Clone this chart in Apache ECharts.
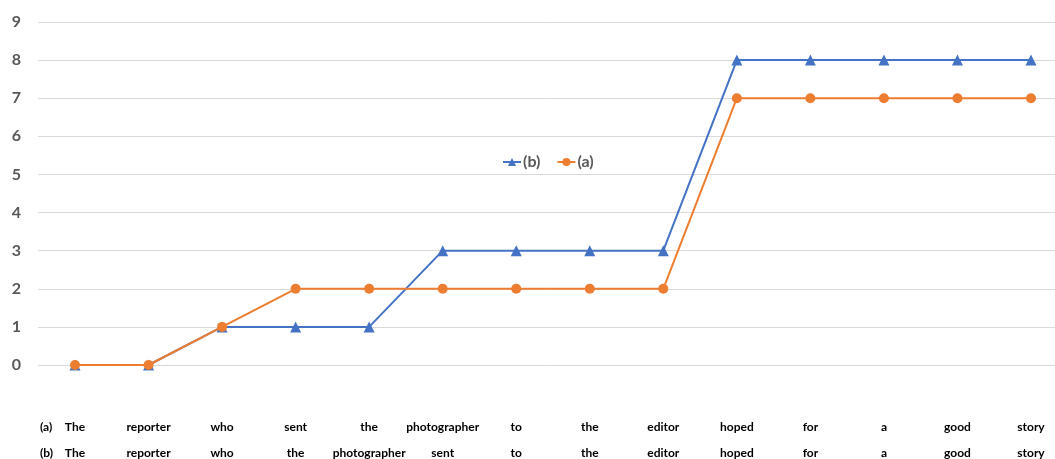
<!DOCTYPE html>
<html><head><meta charset="utf-8">
<script src="https://cdn.jsdelivr.net/npm/echarts@6/dist/echarts.min.js"></script>
<style>html,body{margin:0;padding:0;background:#fff}#c{width:1055px;height:459px}</style>
</head><body><div id="c"></div>
<script>
const wordsA = ['The','reporter','who','sent','the','photographer','to','the','editor','hoped','for','a','good','story'];
const wordsB = ['The','reporter','who','the','photographer','sent','to','the','editor','hoped','for','a','good','story'];
const seriesB = [0,0,1,1,1,3,3,3,3,8,8,8,8,8];
const seriesA = [0,0,1,2,2,2,2,2,2,7,7,7,7,7];
const yTicks = [0,1,2,3,4,5,6,7,8,9];
const rowLabels = ['(a)','(b)'];

const FONT = 'Lato, "Open Sans", sans-serif';
const chart = echarts.init(document.getElementById('c'));
chart.setOption({
  animation:false,
  textStyle:{fontFamily:FONT},
  grid:[
    {left:38,right:0,top:22,bottom:94,outerBoundsMode:'none',containLabel:false},
    {left:75,right:24,top:22,bottom:94,outerBoundsMode:'none',containLabel:false}
  ],
  legend:{
    data:['(b)','(a)'], left:497, top:149, itemWidth:18, itemHeight:10, itemGap:16,
    textStyle:{fontFamily:FONT,fontWeight:'bold',fontSize:16,color:'#595959',padding:[0,0,0,-3]}
  },
  xAxis:[
    {gridIndex:0,type:'category',data:wordsA,show:false},
    {gridIndex:1,type:'category',data:wordsA.map((w,i)=>i),boundaryGap:false,
     axisLine:{show:false},axisTick:{show:false},
     axisLabel:{interval:0,margin:49,lineHeight:26,fontFamily:FONT,fontWeight:'bold',fontSize:12,color:'#000',
       formatter:(v,i)=>wordsA[i]+'\n'+wordsB[i]}}
  ],
  yAxis:[
    {gridIndex:0,type:'value',min:yTicks[0],max:yTicks[yTicks.length-1],interval:1,
     axisLine:{show:false},axisTick:{show:false},
     axisLabel:{margin:17,fontFamily:FONT,fontWeight:'bold',fontSize:16,color:'#595959'},
     splitLine:{lineStyle:{color:'#d9d9d9',width:1}}},
    {gridIndex:1,type:'value',min:yTicks[0],max:yTicks[yTicks.length-1],interval:1,show:false,splitLine:{show:false}}
  ],
  graphic:[
    {type:'text',x:40,y:427,style:{text:rowLabels[0],font:'bold 12px '+FONT,fill:'#000',verticalAlign:'middle'}},
    {type:'text',x:40,y:453,style:{text:rowLabels[1],font:'bold 12px '+FONT,fill:'#000',verticalAlign:'middle'}}
  ],
  series:[
    {name:'(b)',type:'line',xAxisIndex:1,yAxisIndex:1,data:seriesB,symbol:'triangle',symbolSize:11,
     lineStyle:{color:'#4472C4',width:2},itemStyle:{color:'#4472C4'}},
    {name:'(a)',type:'line',xAxisIndex:1,yAxisIndex:1,data:seriesA,symbol:'circle',symbolSize:10,
     lineStyle:{color:'#ED7D31',width:2},itemStyle:{color:'#ED7D31'}}
  ]
});
</script></body></html>
